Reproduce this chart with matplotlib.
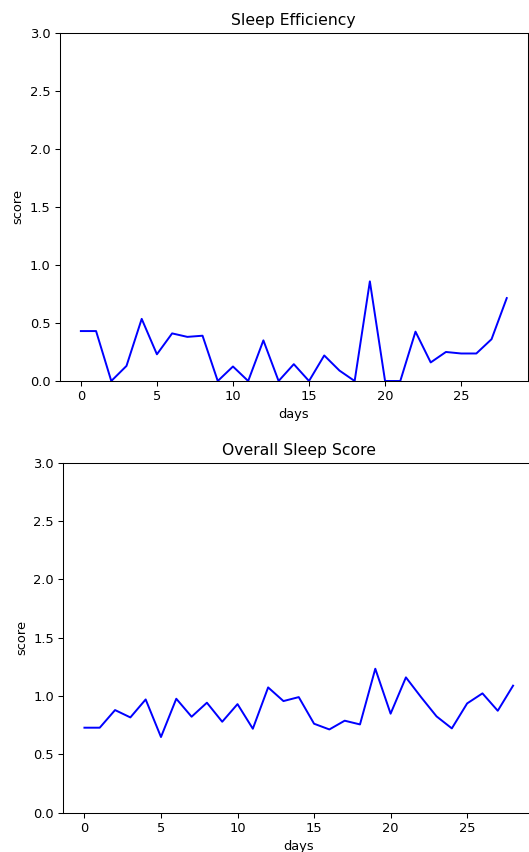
import matplotlib
matplotlib.use("Agg")
import matplotlib.pyplot as plt

# daily scores over the month
days = list(range(29))
sleep_efficiency = [0.43, 0.43, 0.0, 0.13, 0.535, 0.23, 0.41, 0.38, 0.39, 0.0,
                    0.125, 0.0, 0.35, 0.0, 0.145, 0.0, 0.22, 0.09, 0.0, 0.858,
                    0.0, 0.0, 0.425, 0.16, 0.25, 0.237, 0.237, 0.36, 0.714]
overall_score = [0.729, 0.729, 0.88, 0.817, 0.971, 0.649, 0.977, 0.823, 0.943, 0.78,
                 0.931, 0.72, 1.074, 0.957, 0.991, 0.763, 0.714, 0.789, 0.757, 1.234,
                 0.849, 1.16, 0.989, 0.826, 0.723, 0.937, 1.023, 0.874, 1.089]

DPI = 94
fig = plt.figure(figsize=(529 / DPI, 852 / DPI), dpi=DPI)

ax1 = fig.add_axes([0.1126, 0.5528, 0.8856, 0.409])
ax1.plot(days, sleep_efficiency, color="blue")
ax1.set_ylim(0, 3)
ax1.set_title("Sleep Efficiency")
ax1.set_xlabel("days")
ax1.set_ylabel("score")

ax2 = fig.add_axes([0.1191, 0.046, 0.8913, 0.4111])
ax2.plot(days, overall_score, color="blue")
ax2.set_ylim(0, 3)
ax2.set_title("Overall Sleep Score")
ax2.set_xlabel("days")
ax2.set_ylabel("score")

fig.savefig("out.png", dpi=DPI)
